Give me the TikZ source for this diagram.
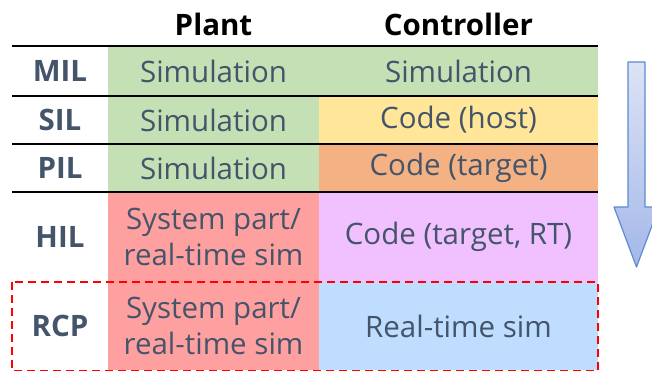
\documentclass[tikz,border=0pt]{standalone}
\usepackage{fontspec}
\setmainfont{Open Sans}
\usetikzlibrary{positioning}
\definecolor{txtslate}{HTML}{44546A}
\definecolor{simgreen}{HTML}{C5E0B4}
\definecolor{hostyellow}{HTML}{FFE699}
\definecolor{targetorange}{HTML}{F4B183}
\definecolor{partred}{HTML}{FFA0A0}
\definecolor{rtviolet}{HTML}{F0C0FF}
\definecolor{rcpblue}{HTML}{BEDDFF}
\definecolor{arrowtop}{HTML}{DDE3F6}
\definecolor{arrowbot}{HTML}{A3B7E8}
\definecolor{arrowedge}{HTML}{5C8BD0}

\begin{document}
\begin{tikzpicture}[x=1pt,y=-1pt]
\tikzset{
  cell/.style={inner sep=0pt,outer sep=0pt,align=center,text=txtslate,font=\fontsize{29.5}{36}\selectfont},
  lblcell/.style={cell,minimum width=96pt,font=\fontsize{29.5}{36}\selectfont\bfseries},
  plantcell/.style={cell,minimum width=211pt},
  ctrlcell/.style={cell,minimum width=279pt},
  headcell/.style={inner sep=0pt,text=black,font=\fontsize{29.5}{36}\selectfont\bfseries},
  rowrule/.style={draw=black,line width=2.5pt},
  rcpframe/.style={draw=red,line width=2.5pt,dash pattern=on 8pt off 5pt},
  flowarrow/.style={draw=arrowedge,line width=1.2pt,line join=round,top color=arrowtop,bottom color=arrowbot}
}
\useasboundingbox (0,0) rectangle (652,371);
% header
\node[headcell] (h_plant) at (213.5,24) {Plant};
\node[headcell] (h_ctrl) at (458.5,24) {Controller};
% MIL
\node[lblcell,minimum height=50pt] (c_MIL_lbl) at (60,71) {MIL};
\node[plantcell,minimum height=50pt,fill=simgreen] (c_MIL_plant) at (213.5,71) {Simulation};
\node[ctrlcell,minimum height=50pt,fill=simgreen] (c_MIL_ctrl) at (458.5,71) {Simulation};
% SIL
\node[lblcell,minimum height=48pt] (c_SIL_lbl) at (60,120) {SIL};
\node[plantcell,minimum height=48pt,fill=simgreen] (c_SIL_plant) at (213.5,120) {Simulation};
\node[ctrlcell,minimum height=48pt,fill=hostyellow] (c_SIL_ctrl) at (458.5,120) {Code (host)};
% PIL
\node[lblcell,minimum height=48pt] (c_PIL_lbl) at (60,168) {PIL};
\node[plantcell,minimum height=48pt,fill=simgreen] (c_PIL_plant) at (213.5,168) {Simulation};
\node[ctrlcell,minimum height=48pt,fill=targetorange] (c_PIL_ctrl) at (458.5,168) {Code (target)};
% HIL
\node[lblcell,minimum height=90pt] (c_HIL_lbl) at (60,237) {HIL};
\node[plantcell,minimum height=90pt,fill=partred] (c_HIL_plant) at (213.5,237) {System part/\\real-time sim};
\node[ctrlcell,minimum height=90pt,fill=rtviolet] (c_HIL_ctrl) at (458.5,237) {Code (target, RT)};
% RCP
\node[lblcell,minimum height=88pt] (c_RCP_lbl) at (60,326) {RCP};
\node[plantcell,minimum height=88pt,fill=partred] (c_RCP_plant) at (213.5,326) {System part/\\real-time sim};
\node[ctrlcell,minimum height=88pt,fill=rcpblue] (c_RCP_ctrl) at (458.5,326) {Real-time sim};
% rules
\draw[rowrule] (c_MIL_lbl.north west) -- (c_MIL_ctrl.north east);
\draw[rowrule] (c_SIL_lbl.north west) -- (c_SIL_ctrl.north east);
\draw[rowrule] (c_PIL_lbl.north west) -- (c_PIL_ctrl.north east);
\draw[rowrule] (c_HIL_lbl.north west) -- (c_HIL_ctrl.north east);
\draw[rcpframe] (c_RCP_lbl.north west) rectangle ([yshift=-1pt]c_RCP_ctrl.south east);
% level arrow
\draw[flowarrow] (628,62) -- (645,62) -- (645,207) -- (659,207) -- (636.5,267) -- (614,207) -- (628,207) -- cycle;
\end{tikzpicture}
\end{document}
